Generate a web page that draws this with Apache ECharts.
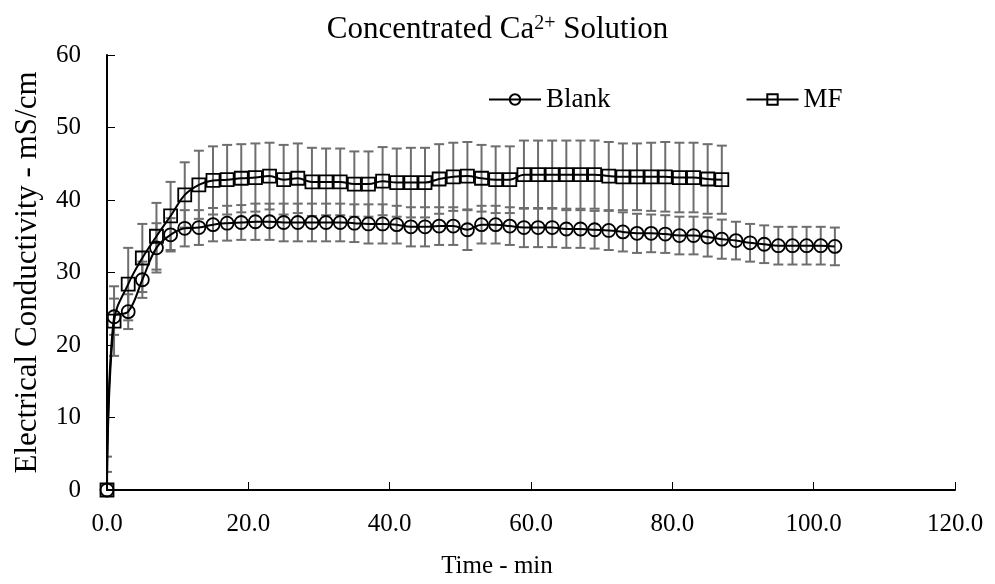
<!DOCTYPE html>
<html>
<head>
<meta charset="utf-8">
<script src="https://cdn.jsdelivr.net/npm/echarts@6/dist/echarts.min.js"></script>
<style>
  html, body { margin: 0; padding: 0; background: #fff; }
  #chart { width: 995px; height: 584px; }
</style>
</head>
<body>
<div id="chart"></div>
<script>
const serif = '"Liberation Serif", "Times New Roman", serif'

// time (min)
const blankTime = [0, 1, 3, 5, 7, 9, 11, 13, 15, 17, 19, 21, 23, 25, 27, 29, 31, 33, 35, 37, 39, 41, 43, 45, 47, 49,
  51, 53, 55, 57, 59, 61, 63, 65, 67, 69, 71, 73, 75, 77, 79, 81, 83, 85, 87, 89, 91, 93, 95, 97, 99, 101, 103]
const mfTime = [0, 1, 3, 5, 7, 9, 11, 13, 15, 17, 19, 21, 23, 25, 27, 29, 31, 33, 35, 37, 39, 41, 43, 45, 47, 49,
  51, 53, 55, 57, 59, 61, 63, 65, 67, 69, 71, 73, 75, 77, 79, 81, 83, 85, 87]

// conductivity (mS/cm)
const blankVals = [0, 23.9, 24.6, 29.0, 33.4, 35.2, 36.1, 36.2, 36.6, 36.8, 36.9, 37.0, 37.0, 36.9, 36.9, 36.9, 36.9, 36.9, 36.8, 36.7, 36.7, 36.6, 36.3, 36.3, 36.4, 36.4,
  35.9, 36.6, 36.6, 36.4, 36.2, 36.2, 36.2, 36.0, 36.0, 35.9, 35.8, 35.6, 35.4, 35.4, 35.3, 35.1, 35.1, 34.9, 34.6, 34.4, 34.1, 33.9, 33.7, 33.7, 33.7, 33.7, 33.6]
const blankErr = [2.5, 2.5, 2.4, 2.5, 3.4, 2.3, 2.5, 2.4, 2.3, 2.4, 2.4, 2.5, 2.5, 2.6, 2.6, 2.6, 2.6, 2.6, 2.6, 2.7, 2.7, 2.6, 2.7, 2.7, 2.6, 2.6,
  2.8, 2.6, 2.6, 2.6, 2.7, 2.7, 2.7, 2.6, 2.6, 2.6, 2.7, 2.7, 2.7, 2.6, 2.6, 2.6, 2.6, 2.7, 2.7, 2.6, 2.6, 2.6, 2.6, 2.6, 2.6, 2.6, 2.6]
const mfVals = [0, 23.3, 28.4, 32.0, 35.0, 37.8, 40.7, 42.1, 42.7, 42.8, 43.0, 43.1, 43.3, 42.8, 43.0, 42.5, 42.5, 42.5, 42.2, 42.2, 42.6, 42.4, 42.4, 42.4, 42.9, 43.2,
  43.3, 43.0, 42.8, 42.8, 43.5, 43.5, 43.5, 43.5, 43.5, 43.5, 43.3, 43.2, 43.2, 43.2, 43.2, 43.1, 43.1, 42.9, 42.8]
const mfErr = [4.6, 4.8, 5.0, 4.7, 4.6, 4.7, 4.5, 4.7, 4.7, 4.8, 4.7, 4.7, 4.6, 4.8, 4.8, 4.7, 4.6, 4.6, 4.5, 4.5, 4.7, 4.7, 4.8, 4.8, 4.8, 4.7,
  4.7, 4.6, 4.6, 4.6, 4.7, 4.7, 4.7, 4.7, 4.7, 4.7, 4.7, 4.6, 4.6, 4.7, 4.8, 4.8, 4.8, 4.8, 4.7]

const xTicks = [0, 20, 40, 60, 80, 100, 120]
const yTicks = [0, 10, 20, 30, 40, 50, 60]

function pairs(t, v) {
  return t.map((x, i) => [x, v[i]])
}
function errData(t, v, e) {
  return t.map((x, i) => [x, v[i] - e[i], v[i] + e[i]])
}

// one error bar with caps
function renderErr(params, api) {
  const lo = api.coord([api.value(0), api.value(1)])
  const hi = api.coord([api.value(0), api.value(2)])
  const w = 5
  const style = { stroke: '#6e6e6e', lineWidth: 2 }
  return {
    type: 'group',
    children: [
      { type: 'line', shape: { x1: lo[0], y1: lo[1], x2: hi[0], y2: hi[1] }, style },
      { type: 'line', shape: { x1: lo[0] - w, y1: lo[1], x2: lo[0] + w, y2: lo[1] }, style },
      { type: 'line', shape: { x1: hi[0] - w, y1: hi[1], x2: hi[0] + w, y2: hi[1] }, style },
    ],
  }
}

const option = {
  animation: false,
  title: {
    text: '{a|Concentrated Ca}{s|2+}{a| Solution}',
    left: 'center',
    top: 9,
    textStyle: {
      rich: {
        a: { fontFamily: serif, fontSize: 31, fontWeight: 'normal', color: '#000' },
        s: { fontFamily: serif, fontSize: 20, fontWeight: 'normal', color: '#000', verticalAlign: 'top', padding: [0, 0, 12, 0] },
      },
    },
  },
  legend: {
    data: ['Blank', 'MF'],
    left: 483,
    top: 81,
    itemWidth: 52,
    itemHeight: 13,
    itemGap: 135,
    textStyle: { fontFamily: serif, fontSize: 27, color: '#000' },
  },
  grid: {
    left: 107,
    right: 40,
    top: 55,
    bottom: 93,
  },
  xAxis: {
    type: 'value',
    min: xTicks[0],
    max: xTicks[xTicks.length - 1],
    interval: 20,
    splitLine: { show: false },
    axisLine: { lineStyle: { color: '#000', width: 2 } },
    axisTick: { inside: true, length: 8, lineStyle: { color: '#000', width: 1 } },
    axisLabel: {
      margin: 22,
      color: '#000',
      fontFamily: serif,
      fontSize: 25,
      formatter: (v) => v.toFixed(1),
    },
    name: 'Time - min',
    nameLocation: 'middle',
    nameGap: 64,
    nameTextStyle: { fontFamily: serif, fontSize: 25, color: '#000', padding: [0, 68, 0, 0] },
  },
  yAxis: {
    type: 'value',
    min: yTicks[0],
    max: yTicks[yTicks.length - 1],
    interval: 10,
    splitLine: { show: false },
    axisLine: { show: true, lineStyle: { color: '#000', width: 2 } },
    axisTick: { show: true, inside: true, length: 8, lineStyle: { color: '#000', width: 1 } },
    axisLabel: { margin: 26, color: '#000', fontFamily: serif, fontSize: 25 },
    name: 'Electrical Conductivity - mS/cm',
    nameLocation: 'middle',
    nameGap: 64,
    nameTextStyle: { fontFamily: serif, fontSize: 31, color: '#000' },
  },
  series: [
    {
      name: 'Blank err',
      type: 'custom',
      renderItem: renderErr,
      data: errData(blankTime, blankVals, blankErr),
      clip: true,
      z: 1,
    },
    {
      name: 'MF err',
      type: 'custom',
      renderItem: renderErr,
      data: errData(mfTime, mfVals, mfErr),
      clip: true,
      z: 1,
    },
    {
      name: 'Blank',
      type: 'line',
      data: pairs(blankTime, blankVals),
      smooth: 0.4,
      symbol: 'circle',
      symbolSize: 13,
      lineStyle: { color: '#000', width: 2 },
      itemStyle: { color: 'rgba(0,0,0,0)', borderColor: '#000', borderWidth: 1.8 },
      z: 3,
    },
    {
      name: 'MF',
      type: 'line',
      data: pairs(mfTime, mfVals),
      smooth: 0.4,
      symbol: 'rect',
      symbolSize: 13,
      lineStyle: { color: '#000', width: 2 },
      itemStyle: { color: 'rgba(0,0,0,0)', borderColor: '#000', borderWidth: 1.8 },
      z: 3,
    },
  ],
}

const chart = echarts.init(document.getElementById('chart'))
chart.setOption(option)
</script>
</body>
</html>
